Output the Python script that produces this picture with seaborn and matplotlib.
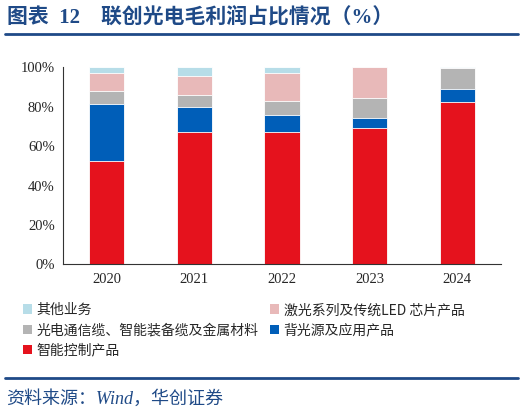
import pandas as pd
import numpy as np
import matplotlib.pyplot as plt
import seaborn as sns
from matplotlib.patches import Patch

years = ["2020", "2021", "2022", "2023", "2024"]

# segment shares (%), bottom to top
smart_ctrl = [52.4, 67.2, 67.0, 69.3, 82.5]
backlight = [29.0, 12.8, 8.8, 5.0, 6.5]
cable_metal = [6.6, 6.1, 7.2, 10.3, 10.5]
laser_led = [9.3, 9.5, 14.3, 15.4, 0.2]
other = [2.7, 4.4, 2.7, 0.0, 0.3]

names = ["智能控制产品", "背光源及应用产品", "光电通信缆、智能装备缆及金属材料",
         "激光系列及传统LED 芯片产品", "其他业务"]
colors = ["#E5121D", "#005EB8", "#B4B4B4", "#E8B9B9", "#B7DDE8"]
series = [smart_ctrl, backlight, cable_metal, laser_led, other]

df = pd.DataFrame({n: v for n, v in zip(names, series)}, index=years)
cum = df.cumsum(axis=1) / 100.0

sns.set_style("white")
plt.rcParams["font.family"] = ["Liberation Serif", "Noto Sans CJK SC"]

fig = plt.figure(figsize=(5.24, 4.13), dpi=100)
ax = fig.add_axes([0.1202, 0.360, 0.836, 0.477])

# draw cumulative totals from top layer down so lower layers sit in front
for n, c in reversed(list(zip(names, colors))):
    sns.barplot(x=years, y=cum[n].values, color=c, width=0.4,
                edgecolor="white", linewidth=0.6, ax=ax, saturation=1)

ax.set_ylim(0, 1)
ax.set_xlim(-0.5, 4.5)
ax.set_yticks(np.arange(0, 1.01, 0.2))
ax.set_yticklabels([f"{int(v*100)}%" for v in np.arange(0, 1.01, 0.2)])
ax.set_xticks(range(5))
ax.set_xticks(np.arange(-0.5, 4.6, 1), minor=True)
ax.tick_params(axis="x", which="major", length=0, pad=6, labelsize=10.5)
ax.tick_params(axis="x", which="minor", length=4, direction="out", width=0.8, color="#333333")
ax.tick_params(axis="y", length=4, direction="out", width=0.8, color="#333333", labelsize=10.5, pad=2)
for s in ["top", "right"]:
    ax.spines[s].set_visible(False)
for s in ["left", "bottom"]:
    ax.spines[s].set_color("#333333")
    ax.spines[s].set_linewidth(0.8)

# legend
order = [4, 2, 0, 3, 1]
handles = [Patch(facecolor=colors[i], edgecolor="none") for i in order]
labels = [names[i] for i in order]
fig.legend(handles, labels, loc="upper left", bbox_to_anchor=(0.033, 0.28),
           ncol=2, frameon=False, handlelength=0.65, handleheight=0.65,
           handletextpad=0.35, columnspacing=0.8, labelspacing=0.45,
           borderaxespad=0, prop={"family": ["Noto Sans CJK SC"], "size": 10})

navy = "#1F4A87"
fig.text(0.014, 0.958, "图表  12    联创光电毛利润占比情况（%）", color=navy,
         fontsize=15, fontweight="bold", va="center", ha="left")
fig.add_artist(plt.Line2D([0.01, 0.988], [0.918, 0.918], color=navy, linewidth=2))
fig.add_artist(plt.Line2D([0.01, 0.988], [0.085, 0.085], color=navy, linewidth=2))
fig.text(0.012, 0.034, "资料来源：Wind，华创证券", color=navy, fontsize=13,
         style="italic", va="center", ha="left")

fig.savefig("out.png", dpi=100)
plt.close()
